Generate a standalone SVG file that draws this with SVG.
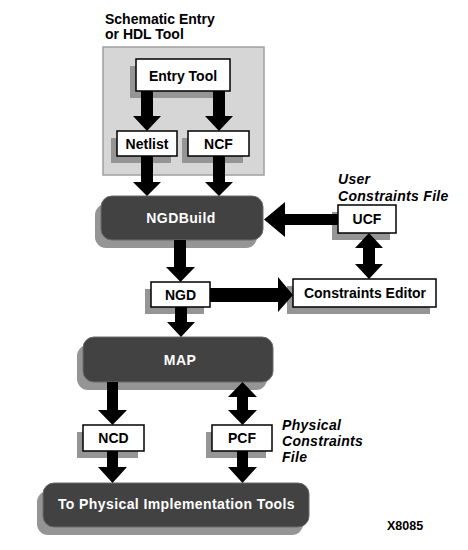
<svg xmlns="http://www.w3.org/2000/svg" width="468" height="550" viewBox="0 0 468 550">
<style>
text{font-family:"Liberation Sans",Arial,sans-serif;font-weight:bold;font-size:14px}
.lbl{fill:#000;text-anchor:middle}
.dlbl{fill:#fff;text-anchor:middle;letter-spacing:0.4px}
.note{fill:#000;font-style:italic;letter-spacing:0.3px}
.box{fill:#fff;stroke:#000;stroke-width:1.5}
.dark{fill:#424242;stroke:#6a6a6a;stroke-width:1}
.sh{fill:#959595}
.arr{fill:#000}
</style>
<rect width="468" height="550" fill="#fff"/>
<g id="title">
<text x="105" y="23.5">Schematic Entry</text>
<text x="105" y="39">or HDL Tool</text>
</g>
<g id="container">
<rect x="103" y="47" width="161" height="128" fill="#d6d6d6" stroke="#a0a0a0" stroke-width="1.5"/>
</g>
<g id="entry-tool">
<rect class="sh" x="130" y="66" width="94" height="32"/>
<rect class="box" x="136" y="59" width="94" height="32"/>
<text class="lbl" x="183" y="81">Entry Tool</text>
</g>
<g id="netlist">
<rect class="sh" x="111" y="138" width="60" height="25"/>
<rect class="box" x="117" y="131" width="60" height="25"/>
<text class="lbl" x="147" y="148.5">Netlist</text>
</g>
<g id="ncf">
<rect class="sh" x="182" y="138" width="61" height="25"/>
<rect class="box" x="188" y="131" width="61" height="25"/>
<text class="lbl" x="218.5" y="148.5">NCF</text>
</g>
<g id="ngdbuild">
<rect class="sh" x="95" y="204" width="162" height="44" rx="11"/>
<rect class="dark" x="101" y="196" width="162" height="44" rx="11"/>
<text class="dlbl" x="181" y="223">NGDBuild</text>
</g>
<g id="ucf">
<text class="note" x="338" y="184">User</text>
<text class="note" x="338" y="201">Constraints File</text>
<rect class="sh" x="332" y="212" width="58" height="28"/>
<rect class="box" x="338" y="205" width="58" height="28"/>
<text class="lbl" x="367" y="224">UCF</text>
</g>
<g id="constraints-editor">
<rect class="sh" x="287" y="286" width="143" height="28"/>
<rect class="box" x="293" y="279" width="143" height="28"/>
<text class="lbl" x="365" y="298">Constraints Editor</text>
</g>
<g id="ngd">
<rect class="sh" x="145" y="289" width="59" height="25"/>
<rect class="box" x="151" y="282" width="59" height="25"/>
<text class="lbl" x="180.5" y="299.5">NGD</text>
</g>
<g id="map">
<rect class="sh" x="77" y="345" width="190" height="45" rx="11"/>
<rect class="dark" x="83" y="337" width="190" height="45" rx="11"/>
<text class="dlbl" x="180" y="365">MAP</text>
</g>
<g id="ncd">
<rect class="sh" x="77" y="432" width="61" height="26"/>
<rect class="box" x="83" y="425" width="61" height="26"/>
<text class="lbl" x="113.5" y="443">NCD</text>
</g>
<g id="pcf">
<rect class="sh" x="206" y="432" width="60" height="26"/>
<rect class="box" x="212" y="425" width="60" height="26"/>
<text class="lbl" x="242" y="443">PCF</text>
<text class="note" x="282" y="430">Physical</text>
<text class="note" x="282" y="446">Constraints</text>
<text class="note" x="282" y="462">File</text>
</g>
<g id="physical-tools">
<rect class="sh" x="37" y="491" width="266" height="44" rx="11"/>
<rect class="dark" x="43" y="483" width="266" height="44" rx="11"/>
<text class="dlbl" x="176.5" y="509">To Physical Implementation Tools</text>
</g>
<g id="figure-id">
<text x="387" y="530" style="font-size:12.5px">X8085</text>
</g>
<g id="connectors">
<polygon class="arr" points="141,91 153,91 153,116 161,116 147,131 133,116 141,116"/>
<polygon class="arr" points="213,91 225,91 225,116 233,116 219,131 205,116 213,116"/>
<polygon class="arr" points="141,156 153,156 153,182 161,182 147,196 133,182 141,182"/>
<polygon class="arr" points="213,156 225,156 225,182 233,182 219,196 205,182 213,182"/>
<polygon class="arr" points="338,214 338,225 285,225 285,237 264,219.5 285,202 285,214"/>
<polygon class="arr" points="369,233 383,248 375,248 375,264 383,264 369,279 355,264 363,264 363,248 355,248"/>
<polygon class="arr" points="174,240 186,240 186,267 195,267 180.5,282 166,267 174,267"/>
<polygon class="arr" points="210,288 278,288 278,277 293,295 278,312 278,302 210,302"/>
<polygon class="arr" points="175,307 187,307 187,322 195,322 181,337 167,322 175,322"/>
<polygon class="arr" points="107,382 118,382 118,410 127,410 112.5,425 98,410 107,410"/>
<polygon class="arr" points="242.5,382 257,397 248,397 248,410 257,410 242.5,425 228,410 237,410 237,397 228,397"/>
<polygon class="arr" points="107,451 118,451 118,467 127,467 112.5,483 98,467 107,467"/>
<polygon class="arr" points="237,451 248,451 248,467 257,467 242.5,483 228,467 237,467"/>
</g>
</svg>
